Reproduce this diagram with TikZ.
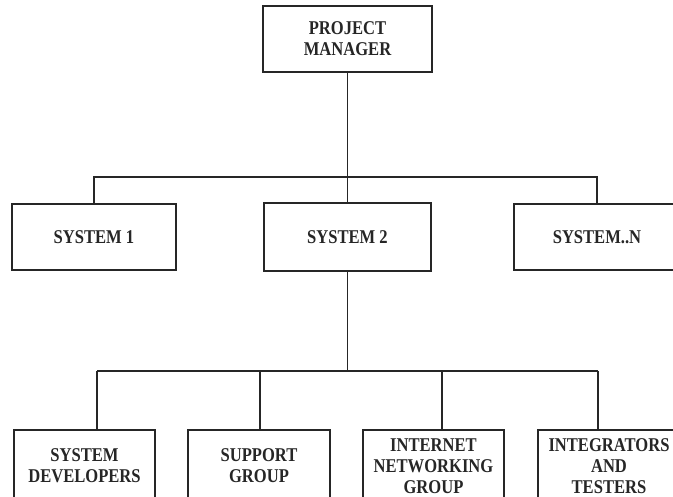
\documentclass[tikz,border=0pt]{standalone}
\usepackage{fontspec}
\setmainfont{Liberation Serif}
\newfontfamily\labfont[FakeStretch=0.85]{Liberation Serif}
\colorlet{ink}{black!85}
\tikzset{
  unitbox/.style={draw=ink, line width=1.5pt, fill=white, rectangle, align=center,
    font=\labfont\bfseries\fontsize{19.5}{21}\selectfont, text=ink, inner sep=0pt},
  link/.style={draw=ink, line width=1.5pt}
}
\begin{document}
\begin{tikzpicture}[x=1pt,y=1pt]
\useasboundingbox (0,0) rectangle (673,-497);
\clip (0,0) rectangle (673,-497);
\node[unitbox, minimum width=169pt, minimum height=66pt] (pm) at (347.5,-39) {PROJECT\\MANAGER};
\node[unitbox, minimum width=164pt, minimum height=66pt] (s1) at (94,-237) {SYSTEM 1};
\node[unitbox, minimum width=167pt, minimum height=68pt] (s2) at (347.5,-237) {SYSTEM 2};
\node[unitbox, minimum width=166pt, minimum height=66pt] (sn) at (597,-237) {SYSTEM..N};
\node[unitbox, minimum width=141pt, minimum height=72pt] (sd) at (84.5,-466) {SYSTEM\\DEVELOPERS};
\node[unitbox, minimum width=142pt, minimum height=72pt] (sg) at (259,-466) {SUPPORT\\GROUP};
\node[unitbox, minimum width=141pt, minimum height=72pt] (ng) at (433.5,-466) {INTERNET\\NETWORKING\\GROUP};
\node[unitbox, minimum width=142pt, minimum height=72pt] (it) at (609,-466) {INTEGRATORS\\AND\\TESTERS};
\coordinate (b1) at (347.5,-177);
\coordinate (b2) at (347.5,-371);
\coordinate (d1) at (97,-371);
\coordinate (d2) at (260,-371);
\coordinate (d3) at (442,-371);
\coordinate (d4) at (598,-371);
\draw[link] (pm) -- (b1);
\draw[link] (s1.north) |- (b1) -| (sn.north);
\draw[link] (b1) -- (s2.north);
\draw[link] (s2) -- (b2);
\draw[link] (d1) -- (d4);
\draw[link] (d1) -- (d1 |- sd.north);
\draw[link] (d2) -- (d2 |- sg.north);
\draw[link] (d3) -- (d3 |- ng.north);
\draw[link] (d4) -- (d4 |- it.north);
\end{tikzpicture}
\end{document}
